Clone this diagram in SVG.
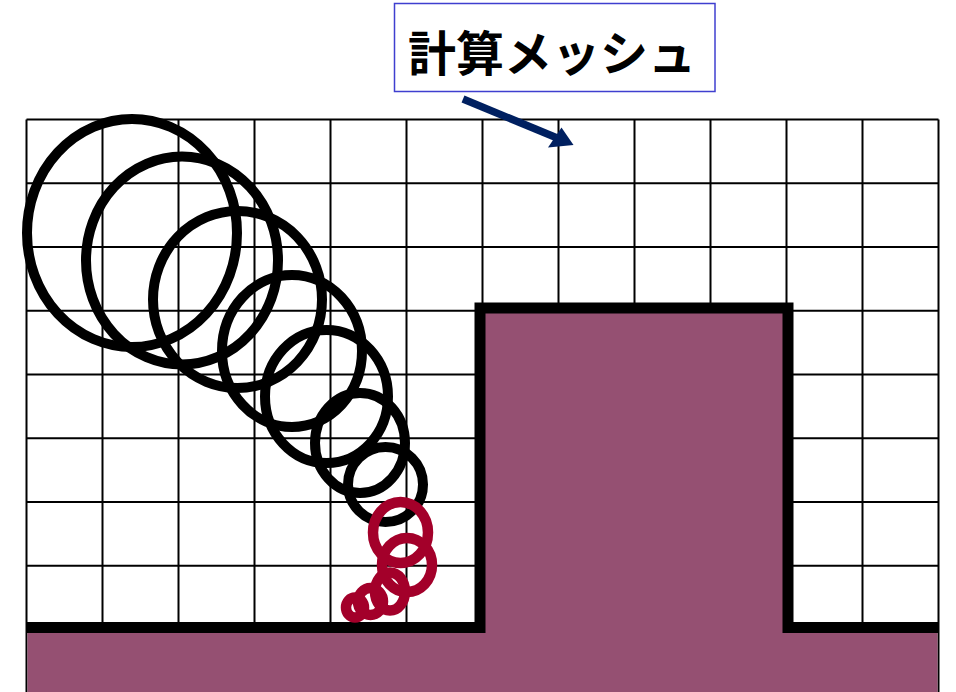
<svg xmlns="http://www.w3.org/2000/svg" width="956" height="692" viewBox="0 0 956 692">
<style>
.grid line{stroke:#000;stroke-width:2}
.blk{fill:none;stroke:#000;stroke-width:10}
.red{fill:none;stroke:#A3002A;stroke-width:10.5}
</style>
<rect width="956" height="692" fill="#fff"/>
<g id="mesh" class="grid">
<line x1="26.5" y1="119.5" x2="26.5" y2="692"/>
<line x1="102.5" y1="119.5" x2="102.5" y2="630"/>
<line x1="178.5" y1="119.5" x2="178.5" y2="630"/>
<line x1="254.5" y1="119.5" x2="254.5" y2="630"/>
<line x1="330.5" y1="119.5" x2="330.5" y2="630"/>
<line x1="406.5" y1="119.5" x2="406.5" y2="630"/>
<line x1="482.5" y1="119.5" x2="482.5" y2="630"/>
<line x1="558.5" y1="119.5" x2="558.5" y2="630"/>
<line x1="634.5" y1="119.5" x2="634.5" y2="630"/>
<line x1="710.5" y1="119.5" x2="710.5" y2="630"/>
<line x1="786.5" y1="119.5" x2="786.5" y2="630"/>
<line x1="862.5" y1="119.5" x2="862.5" y2="630"/>
<line x1="938.5" y1="119.5" x2="938.5" y2="692"/>
<line x1="26.5" y1="119.5" x2="938.5" y2="119.5"/>
<line x1="26.5" y1="183.25" x2="938.5" y2="183.25"/>
<line x1="26.5" y1="247" x2="938.5" y2="247"/>
<line x1="26.5" y1="310.75" x2="938.5" y2="310.75"/>
<line x1="26.5" y1="374.5" x2="938.5" y2="374.5"/>
<line x1="26.5" y1="438.25" x2="938.5" y2="438.25"/>
<line x1="26.5" y1="502" x2="938.5" y2="502"/>
<line x1="26.5" y1="565.75" x2="938.5" y2="565.75"/>
</g>
<g id="terrain">
<polygon points="27.5,627.5 480,627.5 480,308 788,308 788,627.5 937.5,627.5 937.5,692 27.5,692" fill="#955072"/>
<polyline points="26,627.5 480,627.5 480,308 788,308 788,627.5 938,627.5" fill="none" stroke="#000" stroke-width="11"/>
</g>
<g id="black-circles">
<ellipse class="blk" cx="132" cy="233" rx="105" ry="114"/>
<ellipse class="blk" cx="182" cy="260.5" rx="96" ry="104"/>
<ellipse class="blk" cx="237.5" cy="299.5" rx="84.5" ry="88.5"/>
<ellipse class="blk" cx="292" cy="351" rx="70" ry="76"/>
<ellipse class="blk" cx="326.5" cy="396.5" rx="61.5" ry="66.5"/>
<ellipse class="blk" cx="360" cy="443" rx="45" ry="50"/>
<ellipse class="blk" cx="385.5" cy="484.5" rx="37.5" ry="37.5"/>
</g>
<g id="red-circles">
<ellipse class="red" cx="400.5" cy="532.5" rx="27.5" ry="30.5"/>
<ellipse class="red" cx="407" cy="565" rx="25" ry="27"/>
<ellipse class="red" cx="390" cy="591.5" rx="15" ry="19"/>
<ellipse class="red" cx="370.5" cy="601.5" rx="12.5" ry="13.5"/>
<ellipse class="red" cx="355" cy="607.5" rx="9" ry="10"/>
</g>
<g id="label">
<rect x="394.5" y="3.5" width="320.5" height="88" fill="#fff" stroke="#3F3FCF" stroke-width="1.5"/>
<text x="552" y="71" text-anchor="middle" font-family="'Noto Sans CJK JP', 'Noto Sans CJK SC', sans-serif" font-weight="bold" font-size="48" fill="#000">計算メッシュ</text>
</g>
<g id="connectors">
<line x1="463" y1="99" x2="556" y2="137.5" stroke="#002060" stroke-width="7.5"/>
<polygon points="573.5,145 548,147.5 561.5,127.5" fill="#002060"/>
</g>
</svg>
